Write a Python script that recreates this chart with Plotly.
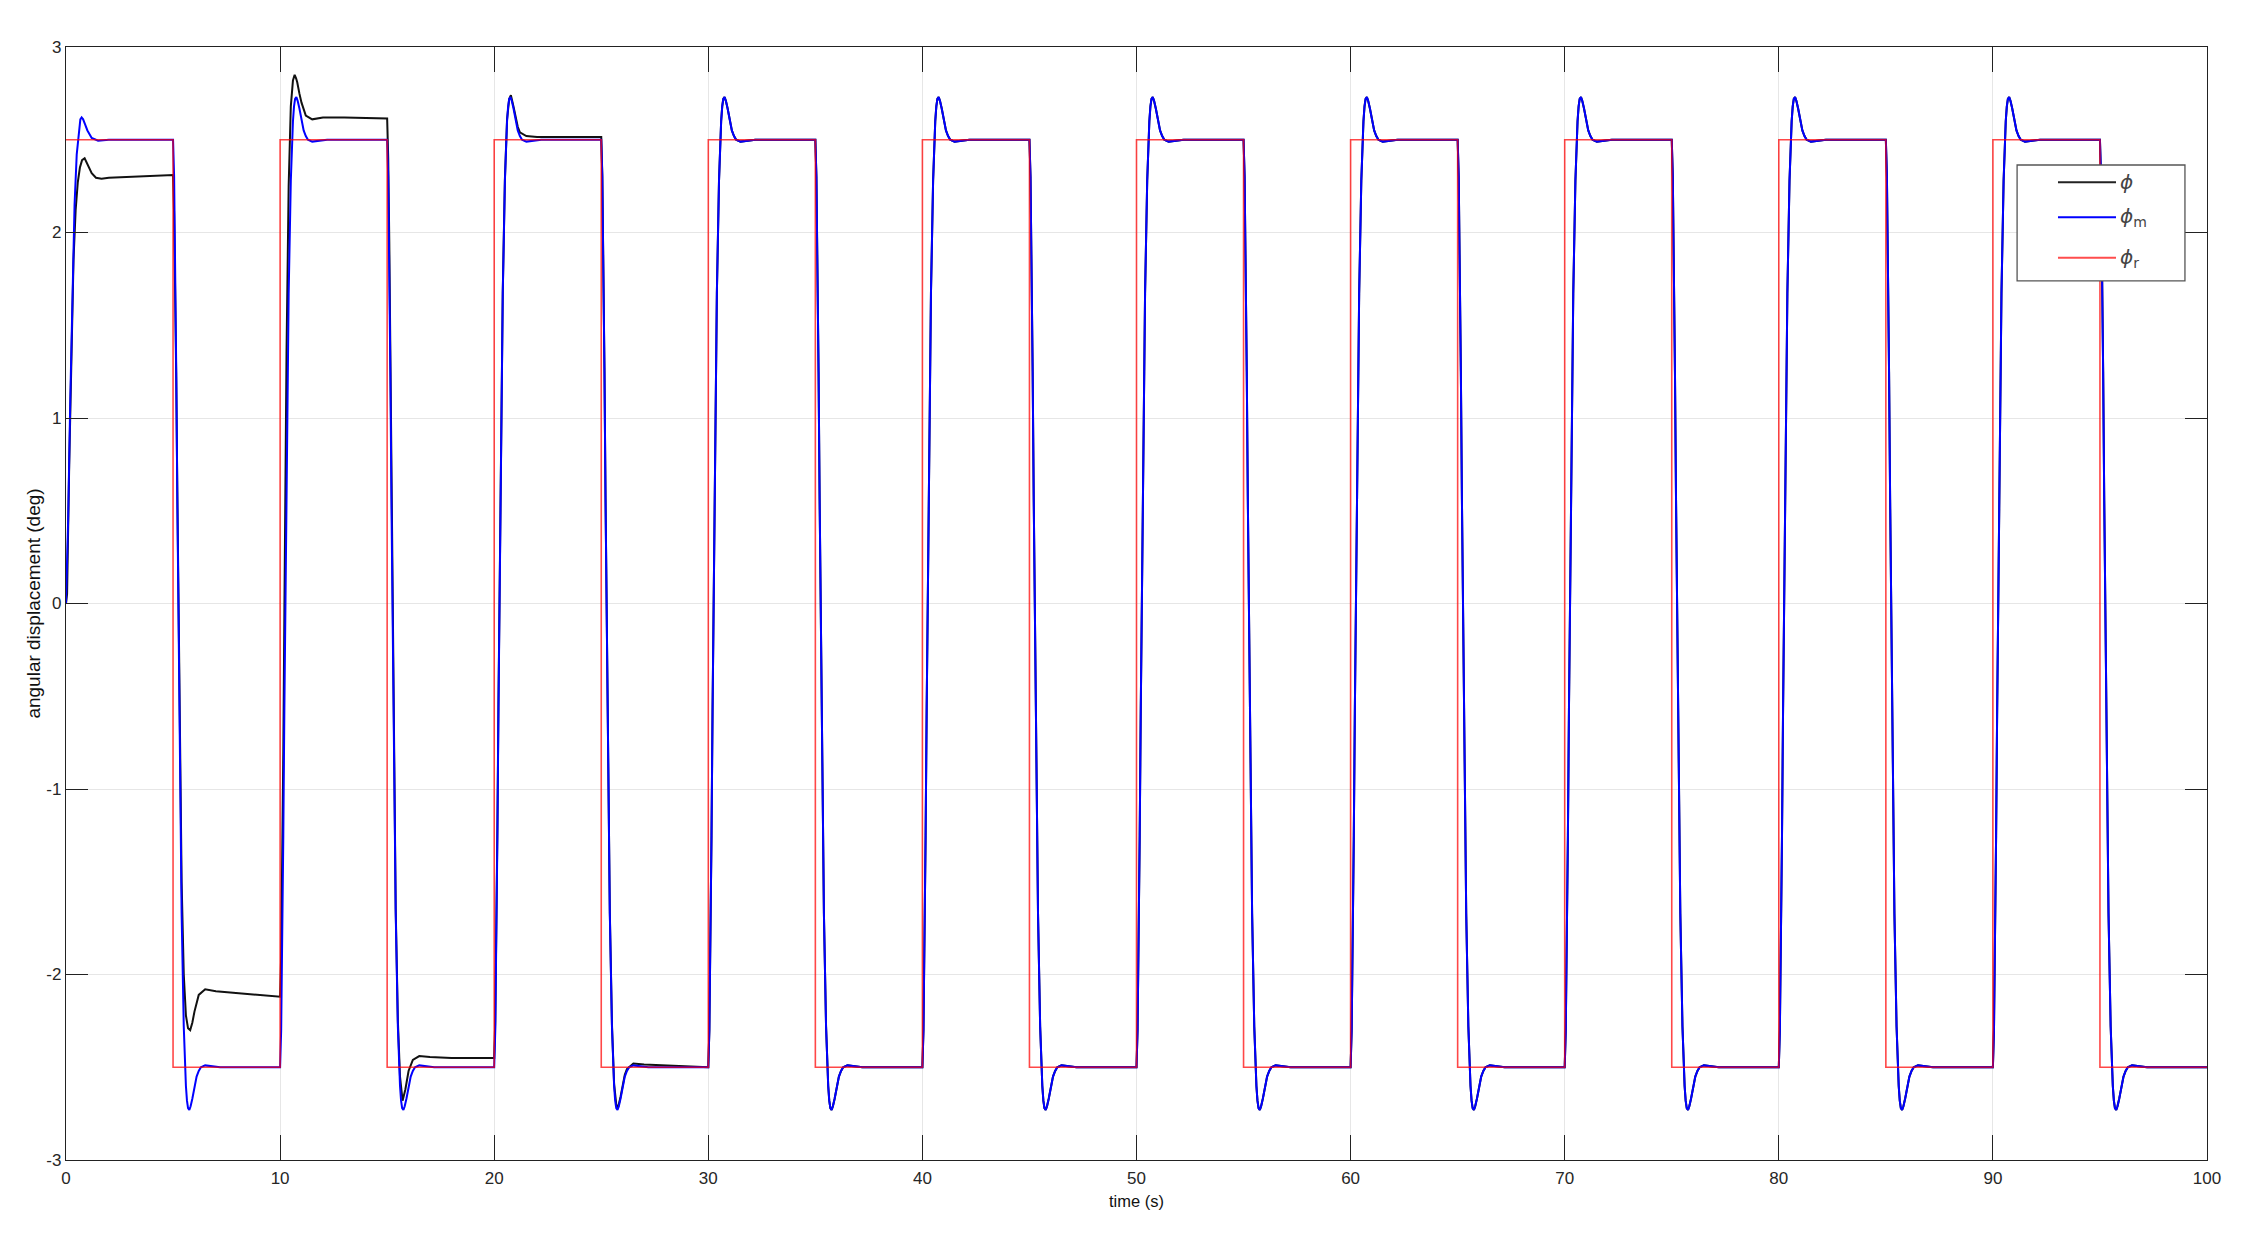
import plotly.graph_objects as go

# ----------------------------------------------------------------------
# data
# ----------------------------------------------------------------------

# reference phi_r: square wave, level held from each switch time
ref_times = [0, 5, 10, 15, 20, 25, 30, 35, 40, 45, 50, 55, 60, 65, 70, 75, 80, 85, 90, 95, 100]
ref_levels = [2.5, -2.5, 2.5, -2.5, 2.5, -2.5, 2.5, -2.5, 2.5, -2.5,
              2.5, -2.5, 2.5, -2.5, 2.5, -2.5, 2.5, -2.5, 2.5, -2.5, -2.5]

# phi_m: first half period (0 -> 2.5)
pm0_dt = [0.0, 0.1, 0.2, 0.3, 0.4, 0.5, 0.6, 0.67, 0.73, 0.8, 0.9, 1.0, 1.2, 1.5, 2.0, 5.0]
pm0_val = [0.0, 0.45, 1.10, 1.70, 2.15, 2.42, 2.56, 2.61, 2.62, 2.61, 2.58, 2.55, 2.51, 2.495, 2.50, 2.50]

# phi_m: response after a rising switch (-2.5 -> 2.5), read around t = 40
pm_dt = [0.0, 0.05, 0.1, 0.15, 0.2, 0.3, 0.4, 0.5, 0.55, 0.6, 0.65, 0.7, 0.76, 0.82, 0.9, 1.0,
         1.1, 1.2, 1.3, 1.5, 1.8, 2.2, 3.0, 5.0]
pm_up = [-2.5, -2.30, -1.85, -1.25, -0.56, 0.70, 1.67, 2.28, 2.46, 2.60, 2.68, 2.72, 2.73, 2.71,
         2.67, 2.60, 2.55, 2.52, 2.50, 2.49, 2.495, 2.50, 2.50, 2.50]

# phi: the first six half periods differ from phi_m (0 .. 30 s)
phi_dt = [
    [0, 0.05, 0.15, 0.25, 0.35, 0.45, 0.55, 0.65, 0.75, 0.87, 1.0, 1.2, 1.4, 1.66, 2.0, 3.0, 4.0, 5.0],
    [0, 0.05, 0.1, 0.15, 0.2, 0.3, 0.4, 0.5, 0.6, 0.7, 0.8, 0.9, 1.0, 1.2, 1.5, 2.0, 3.0, 4.0, 5.0],
    [0, 0.05, 0.1, 0.15, 0.2, 0.3, 0.4, 0.5, 0.6, 0.68, 0.75, 0.8, 0.9, 1.0, 1.2, 1.5, 2.0, 3.0, 5.0],
    [0, 0.05, 0.1, 0.15, 0.2, 0.3, 0.4, 0.5, 0.6, 0.72, 0.85, 1.0, 1.2, 1.5, 2.0, 3.0, 5.0],
    [0, 0.05, 0.1, 0.15, 0.2, 0.3, 0.4, 0.5, 0.6, 0.7, 0.78, 0.9, 1.0, 1.1, 1.2, 1.5, 2.0, 3.0, 5.0],
    [0, 0.05, 0.1, 0.15, 0.2, 0.3, 0.4, 0.5, 0.6, 0.7, 0.78, 0.9, 1.0, 1.1, 1.2, 1.5, 2.0, 3.0, 5.0],
]
phi_val = [
    [0, 0.05, 0.75, 1.40, 1.85, 2.12, 2.27, 2.35, 2.39, 2.40, 2.37, 2.32, 2.295, 2.29, 2.295, 2.30, 2.305, 2.31],
    [2.31, 2.10, 1.75, 1.20, 0.60, -0.60, -1.50, -2.00, -2.22, -2.29, -2.30, -2.26, -2.20, -2.11, -2.08,
     -2.09, -2.10, -2.11, -2.12],
    [-2.12, -1.90, -1.45, -0.80, -0.05, 1.35, 2.25, 2.68, 2.82, 2.85, 2.83, 2.81, 2.75, 2.70, 2.63, 2.61,
     2.62, 2.62, 2.615],
    [2.615, 2.40, 1.95, 1.35, 0.65, -0.65, -1.65, -2.25, -2.55, -2.68, -2.62, -2.52, -2.46, -2.44, -2.445,
     -2.45, -2.45],
    [-2.45, -2.25, -1.80, -1.20, -0.52, 0.72, 1.68, 2.29, 2.61, 2.72, 2.74, 2.68, 2.62, 2.57, 2.54, 2.52,
     2.515, 2.515, 2.515],
    [2.515, 2.31, 1.86, 1.27, 0.57, -0.69, -1.66, -2.27, -2.59, -2.70, -2.72, -2.66, -2.59, -2.54, -2.51,
     -2.48, -2.485, -2.49, -2.49],
]

x_ticks = [0, 10, 20, 30, 40, 50, 60, 70, 80, 90, 100]
y_ticks = [-3, -2, -1, 0, 1, 2, 3]
y_tick_text = ["-3", "-2", "-1", "0", "1", "2", "3"]

legend_names = ["ϕ", "ϕ<sub>m</sub>", "ϕ<sub>r</sub>"]
legend_colors = ["#222222", "#0000ff", "#ff4d4d"]


# ----------------------------------------------------------------------
# join the half-period pieces into full series
# ----------------------------------------------------------------------

def join(pieces):
    xs, ys = [], []
    for i, (t0, dts, vals) in enumerate(pieces):
        last = i == len(pieces) - 1
        for d, v in zip(dts, vals):
            if d == dts[-1] and not last:
                continue
            xs.append(t0 + d)
            ys.append(v)
    return xs, ys


pm_pieces = [(0, pm0_dt, pm0_val)]
for k in range(1, 20):
    vals = pm_up if k % 2 == 0 else [-v for v in pm_up]
    pm_pieces.append((ref_times[k], pm_dt, vals))
pm_x, pm_y = join(pm_pieces)

phi_pieces = [(ref_times[k], phi_dt[k], phi_val[k]) for k in range(6)]
for k in range(6, 20):
    vals = pm_up if k % 2 == 0 else [-v for v in pm_up]
    phi_pieces.append((ref_times[k], pm_dt, vals))
phi_x, phi_y = join(phi_pieces)


# ----------------------------------------------------------------------
# figure
# ----------------------------------------------------------------------

fig = go.Figure()
fig.add_trace(go.Scatter(x=phi_x, y=phi_y, mode="lines", name=legend_names[0],
                         line=dict(color="#111111", width=2)))
fig.add_trace(go.Scatter(x=pm_x, y=pm_y, mode="lines", name=legend_names[1],
                         line=dict(color="#0000ff", width=2)))
fig.add_trace(go.Scatter(x=ref_times, y=ref_levels, mode="lines", name=legend_names[2],
                         line=dict(color="rgba(255,0,0,0.72)", width=1.6, shape="hv")))

axis_common = dict(
    showline=True, linecolor="#222222", linewidth=1.3, mirror="allticks",
    ticks="inside", tickcolor="#222222", tickwidth=1,
    showgrid=True, gridcolor="#e6e6e6", gridwidth=1, zeroline=False,
    automargin=False,
    tickfont=dict(family="Liberation Sans Narrow, Liberation Sans, Arial", size=17, color="#262626"),
)

fig.update_xaxes(range=[0, 100], tickvals=x_ticks, ticklen=25, ticklabelstandoff=2,
                 title=dict(text="time (s)", standoff=8,
                            font=dict(family="Liberation Sans, Arial", size=16.5, color="#111111")),
                 **axis_common)
fig.update_yaxes(range=[-3, 3], tickvals=y_ticks, ticktext=y_tick_text, ticklen=22,
                 ticklabelstandoff=0,
                 title=dict(text="angular displacement (deg)", standoff=0,
                            font=dict(family="Liberation Sans, Arial", size=19, color="#111111")),
                 **axis_common)

# legend box drawn by hand, in plot-area (paper) fractions
box_x0, box_x1 = 0.9113, 0.9897
box_y0, box_y1 = 0.7898, 0.8940
line_x0, line_x1 = 0.9304, 0.9575
text_x = 0.9585
entry_y = [0.8784, 0.8470, 0.8107]

fig.add_shape(type="rect", xref="paper", yref="paper", x0=box_x0, x1=box_x1, y0=box_y0, y1=box_y1,
              line=dict(color="#555555", width=1.3), fillcolor="white", layer="above")
for name, color, yy in zip(legend_names, legend_colors, entry_y):
    fig.add_shape(type="line", xref="paper", yref="paper", x0=line_x0, x1=line_x1, y0=yy, y1=yy,
                  line=dict(color=color, width=2), layer="above")
    label = "<i>ϕ</i>" + name[1:]
    fig.add_annotation(xref="paper", yref="paper", x=text_x, y=yy, text=label,
                       showarrow=False, xanchor="left", yanchor="middle",
                       font=dict(family="DejaVu Sans", size=20, color="#444444"))

# the page adds an 8 px body margin, so the figure is 16 px smaller than the window
fig.update_layout(
    width=2238, height=1225,
    margin=dict(l=58, r=39, t=39, b=73),
    paper_bgcolor="white", plot_bgcolor="white",
    showlegend=False,
)

fig.write_html("out.html")
